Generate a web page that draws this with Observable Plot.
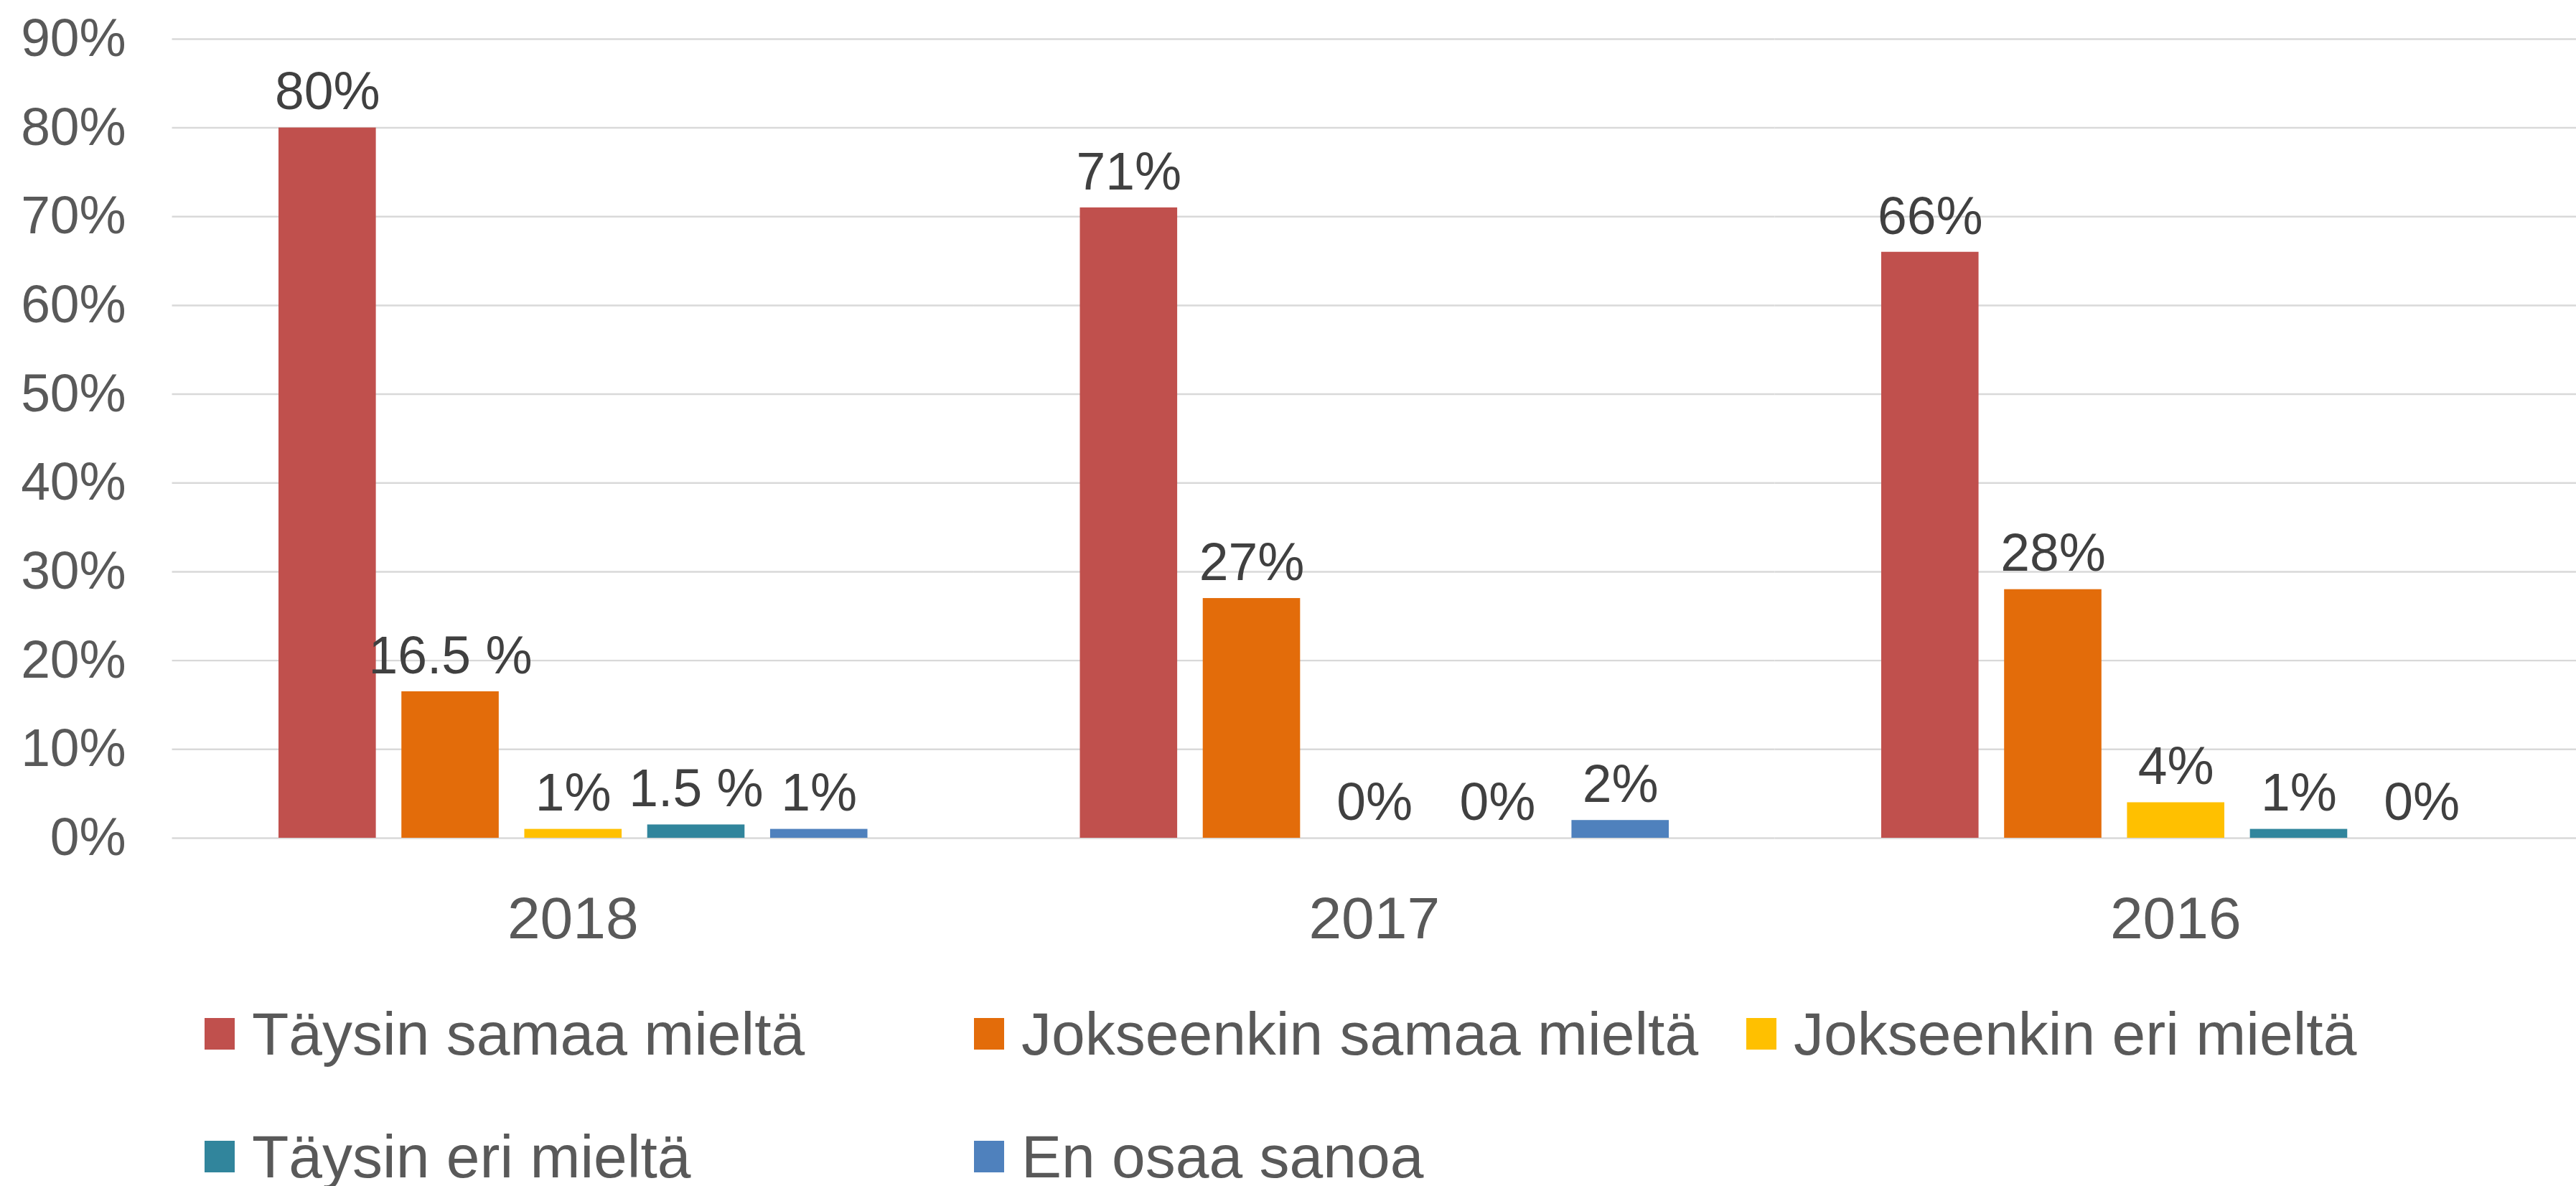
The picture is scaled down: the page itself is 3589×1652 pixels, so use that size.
<!DOCTYPE html>
<html>
<head>
<meta charset="utf-8">
<script src="https://cdn.jsdelivr.net/npm/d3@7"></script>
<script src="https://cdn.jsdelivr.net/npm/@observablehq/plot@0.6"></script>
<style>
  html, body { margin: 0; padding: 0; background: #fff; overflow: hidden; }
  #wrap { position: relative; width: 3589px; height: 1652px; font-family: "Liberation Sans", Arial, sans-serif; }
  #chart { position: absolute; left: 0; top: 0; }
  svg g[aria-label="y-axis tick label"] { font-size: 74px; fill: #595959; }
  svg g[aria-label="fx-axis tick label"] { font-size: 83px; fill: #595959; }
  .item { position: absolute; display: flex; align-items: center; height: 100px; line-height: 100px;
          font-size: 84px; color: #595959; white-space: nowrap; }
  .sw { width: 42px; height: 44px; margin-right: 24px; flex: none; }
</style>
</head>
<body>
<div id="wrap">
  <div id="chart"></div>
  <div id="legend"></div>
</div>
<script>
const years = ["2018", "2017", "2016"];
const categories = ["Täysin samaa mieltä", "Jokseenkin samaa mieltä", "Jokseenkin eri mieltä", "Täysin eri mieltä", "En osaa sanoa"];
const colors = ["#C0504D", "#E36C0A", "#FFC000", "#31859C", "#4F81BD"];
const values2018 = [80, 16.5, 1, 1.5, 1];
const values2017 = [71, 27, 0, 0, 2];
const values2016 = [66, 28, 4, 1, 0];
const yTicks = [0, 10, 20, 30, 40, 50, 60, 70, 80, 90];

const series = {"2018": values2018, "2017": values2017, "2016": values2016};
const data = [];
for (const y of years) categories.forEach((c, i) => data.push({year: y, category: c, value: series[y][i]}));
const fmt = v => Number.isInteger(v) ? `${v}%` : `${v.toFixed(1)} %`;

const chart = Plot.plot({
  width: 3626,
  height: 1340,
  marginLeft: 242,
  marginRight: 0,
  marginTop: 54.5,
  marginBottom: 161,
  style: {fontFamily: "'Liberation Sans', Arial, sans-serif", background: "#fff", overflow: "visible"},
  fx: {domain: years, padding: 0, label: null, tickSize: 0, tickPadding: 82},
  x: {domain: categories, paddingInner: 0.21, paddingOuter: 0.855, axis: null},
  y: {domain: [0, 90], ticks: yTicks, tickFormat: d => d + "%", label: null, tickSize: 0, tickPadding: 65},
  color: {domain: categories, range: colors},
  marks: [
    Plot.gridY(yTicks, {stroke: "#d9d9d9", strokeOpacity: 1, strokeWidth: 2.5}),
    Plot.barY(data, {fx: "year", x: "category", y: "value", fill: "category"}),
    Plot.text(data, {fx: "year", x: "category", y: "value", text: d => fmt(d.value), dy: -26,
      lineAnchor: "bottom", fontSize: 74, fill: "#404040"})
  ]
});
document.getElementById("chart").appendChild(chart);

const legend = document.getElementById("legend");
const colX = [285, 1357, 2433];
const rowY = [1390, 1561];
categories.forEach((c, i) => {
  const item = document.createElement("div");
  item.className = "item";
  item.style.left = colX[i % 3] + "px";
  item.style.top = rowY[Math.floor(i / 3)] + "px";
  const sw = document.createElement("div");
  sw.className = "sw";
  sw.style.background = colors[i];
  item.appendChild(sw);
  item.appendChild(document.createTextNode(c));
  legend.appendChild(item);
});
</script>
</body>
</html>
